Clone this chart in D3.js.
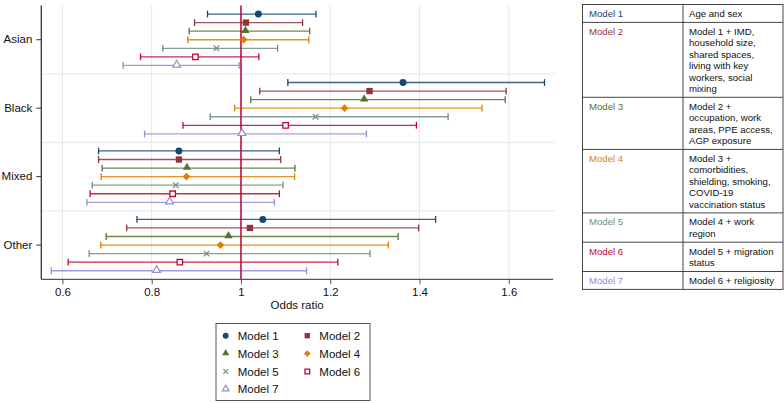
<!DOCTYPE html>
<html><head><meta charset="utf-8">
<script src="https://cdn.jsdelivr.net/npm/d3@7"></script>
<style>body{margin:0;background:#fff}svg{display:block;font-family:"Liberation Sans",Arial,Helvetica,sans-serif}</style>
</head><body>
<svg id="c" width="784" height="403"></svg>
<script>
const categories = ["Asian", "Black", "Mixed", "Other"];
const models = ["Model 1", "Model 2", "Model 3", "Model 4", "Model 5", "Model 6", "Model 7"];
const asianOR = [1.039, 1.011, 1.010, 1.006, 0.945, 0.898, 0.856];
const asianLo = [0.925, 0.896, 0.884, 0.881, 0.825, 0.775, 0.736];
const asianHi = [1.168, 1.138, 1.154, 1.152, 1.082, 1.040, 0.996];
const blackOR = [1.363, 1.288, 1.276, 1.232, 1.167, 1.100, 1.002];
const blackLo = [1.105, 1.042, 1.022, 0.986, 0.931, 0.870, 0.784];
const blackHi = [1.680, 1.594, 1.592, 1.540, 1.464, 1.393, 1.281];
const mixedOR = [0.861, 0.861, 0.879, 0.878, 0.854, 0.847, 0.840];
const mixedLo = [0.681, 0.681, 0.689, 0.687, 0.667, 0.662, 0.655];
const mixedHi = [1.086, 1.089, 1.121, 1.120, 1.094, 1.086, 1.075];
const otherOR = [1.049, 1.020, 0.972, 0.954, 0.923, 0.863, 0.811];
const otherLo = [0.767, 0.744, 0.698, 0.686, 0.660, 0.613, 0.575];
const otherHi = [1.436, 1.398, 1.352, 1.330, 1.289, 1.217, 1.147];
const xTicks = [0.6, 0.8, 1, 1.2, 1.4, 1.6];
const xLabel = "Odds ratio";
const tableDesc = [
  ["Age and sex"],
  ["Model 1 + IMD,", "household size,", "shared spaces,", "living with key", "workers, social", "mixing"],
  ["Model 2 +", "occupation, work", "areas, PPE access,", "AGP exposure"],
  ["Model 3 +", "comorbidities,", "shielding, smoking,", "COVID-19", "vaccination status"],
  ["Model 4 + work", "region"],
  ["Model 5 + migration", "status"],
  ["Model 6 + religiosity"]
];

const colors = ["#1a476f", "#90353b", "#55752f", "#e37e00", "#6e8e84", "#c10534", "#938dd2"];
const seriesOR = [asianOR, blackOR, mixedOR, otherOR];
const seriesLo = [asianLo, blackLo, mixedLo, otherLo];
const seriesHi = [asianHi, blackHi, mixedHi, otherHi];

const svg = d3.select("#c");
const L = 41.3, R = 553, T = 5.5, B = 279.3;
const x = d3.scaleLinear().domain([0.5527, 1.699]).range([L, R]);
const yBand = d3.scaleBand().domain(categories).range([T, B]);
const yRow = d3.scalePoint().domain(models).range([yBand.bandwidth() / 8, yBand.bandwidth() * 7 / 8]);

// gridlines
const g = svg.append("g");
g.selectAll(".vg").data(xTicks).join("line")
  .attr("x1", d => x(d)).attr("x2", d => x(d)).attr("y1", T).attr("y2", B)
  .attr("stroke", "#e6e6e6").attr("stroke-width", 1);
g.selectAll(".hg").data(categories.slice(1)).join("line")
  .attr("x1", L).attr("x2", R + 2).attr("y1", d => yBand(d)).attr("y2", d => yBand(d))
  .attr("stroke", "#e6e6e6").attr("stroke-width", 1);

// data rows
const rows = [];
categories.forEach((c, ci) => models.forEach((m, mi) => rows.push({
  c, m, mi, or: seriesOR[ci][mi], lo: seriesLo[ci][mi], hi: seriesHi[ci][mi],
  y: yBand(c) + yRow(m)
})));

const bars = svg.append("g");
rows.forEach(r => {
  const col = colors[r.mi];
  bars.append("line").attr("x1", x(r.lo)).attr("x2", x(r.hi)).attr("y1", r.y).attr("y2", r.y)
    .attr("stroke", col).attr("stroke-width", 1.3).attr("stroke-opacity", 0.85);
  [r.lo, r.hi].forEach(v => bars.append("line").attr("x1", x(v)).attr("x2", x(v))
    .attr("y1", r.y - 3.4).attr("y2", r.y + 3.4).attr("stroke", col).attr("stroke-width", 1.3));
});

// reference line
svg.append("line").attr("x1", x(1)).attr("x2", x(1)).attr("y1", T).attr("y2", B)
  .attr("stroke", "#c10534").attr("stroke-width", 1.5);

function marker(sel, mi, cx, cy, s) {
  const col = colors[mi];
  const k = s || 1;
  if (mi === 0) sel.append("path").attr("d", d3.symbol(d3.symbolCircle, 38 * k * k)()).attr("fill", col);
  else if (mi === 1) sel.append("path").attr("d", d3.symbol(d3.symbolSquare, 40 * k * k)()).attr("fill", col);
  else if (mi === 2) sel.append("path").attr("d", d3.symbol(d3.symbolTriangle, 30 * k * k)()).attr("fill", col)
    .attr("transform-origin", "0 0");
  else if (mi === 3) sel.append("path").attr("d", d3.symbol(d3.symbolSquare, 30 * k * k)()).attr("fill", col)
    .attr("transform", "rotate(45)");
  else if (mi === 4) sel.append("path").attr("d", d3.symbol(d3.symbolX, 22 * k * k)()).attr("fill", "none")
    .attr("stroke", col).attr("stroke-width", 1.2);
  else if (mi === 5) sel.append("path").attr("d", d3.symbol(d3.symbolSquare, 30 * k * k)()).attr("fill", "#fff")
    .attr("stroke", col).attr("stroke-width", 1.3);
  else sel.append("path").attr("d", d3.symbol(d3.symbolTriangle, 26 * k * k)()).attr("fill", "#fff")
    .attr("stroke", col).attr("stroke-width", 1.2);
  sel.attr("transform", `translate(${cx},${cy})`);
}
const mk = svg.append("g");
rows.forEach(r => marker(mk.append("g"), r.mi, x(r.or), r.mi === 2 || r.mi === 6 ? r.y - 0.6 : r.y));

// axes
const ax = svg.append("g").attr("transform", `translate(0,${B})`)
  .call(d3.axisBottom(x).tickValues(xTicks).tickFormat(d => String(d)).tickSizeOuter(0).tickSize(5).tickPadding(4));
ax.select(".domain").attr("stroke", "#555").attr("stroke-width", 1.3).attr("d", `M${L},0H${R}`);
ax.selectAll(".tick line").attr("stroke", "#555").attr("stroke-width", 1);
ax.selectAll("text").attr("font-size", 11.5).attr("fill", "#111").attr("font-family", "Liberation Sans, Arial");

const ay = svg.append("g").attr("transform", `translate(${L},0)`)
  .call(d3.axisLeft(yBand).tickSizeOuter(0).tickSize(5).tickPadding(4));
ay.select(".domain").attr("stroke", "#333").attr("stroke-width", 1.3).attr("d", `M0,${T}V${B}`);
ay.selectAll(".tick line").attr("stroke", "#333");
ay.selectAll("text").attr("font-size", 11.5).attr("fill", "#111").attr("font-family", "Liberation Sans, Arial");

svg.append("text").attr("x", (L + R) / 2 + 0).attr("y", 309).attr("text-anchor", "middle")
  .attr("font-size", 11.5).attr("fill", "#111").text(xLabel);

// legend
const lg = svg.append("g");
lg.append("rect").attr("x", 216).attr("y", 323.5).attr("width", 154).attr("height", 77)
  .attr("fill", "#fff").attr("stroke", "#555").attr("stroke-width", 1);
models.forEach((m, i) => {
  const col = i % 2, row = Math.floor(i / 2);
  const mx = col === 0 ? 225.7 : 307.3;
  const my = 335.7 + row * 17.9;
  marker(lg.append("g"), i, mx, i === 2 || i === 6 ? my - 0.5 : my, 0.85);
  lg.append("text").attr("x", mx + 12).attr("y", my + 4).attr("font-size", 11.5).attr("fill", "#111").text(m);
});

// table
const tb = svg.append("g");
const tL = 582.5, tD = 683, tR = 783, lineH = 11.4;
let ty = 4.5;
const tops = [];
tableDesc.forEach(lines => { tops.push(ty); ty += 6.5 + lines.length * lineH; });
const tBottom = ty;
tableDesc.forEach((lines, i) => {
  const top = tops[i];
  tb.append("text").attr("x", 589).attr("y", top + 12.5).attr("font-size", 9.6).attr("fill", colors[i]).text(models[i]);
  lines.forEach((ln, j) => tb.append("text").attr("x", 689).attr("y", top + 12.5 + j * lineH)
    .attr("font-size", 9.6).attr("fill", "#111").text(ln));
  if (i > 0) tb.append("line").attr("x1", tL).attr("x2", tR).attr("y1", top).attr("y2", top)
    .attr("stroke", "#444").attr("stroke-width", 1);
});
tb.append("rect").attr("x", tL).attr("y", 4.5).attr("width", tR - tL).attr("height", tBottom - 4.5)
  .attr("fill", "none").attr("stroke", "#444").attr("stroke-width", 1);
tb.append("line").attr("x1", tD).attr("x2", tD).attr("y1", 4.5).attr("y2", tBottom)
  .attr("stroke", "#444").attr("stroke-width", 1);
</script>
</body></html>
